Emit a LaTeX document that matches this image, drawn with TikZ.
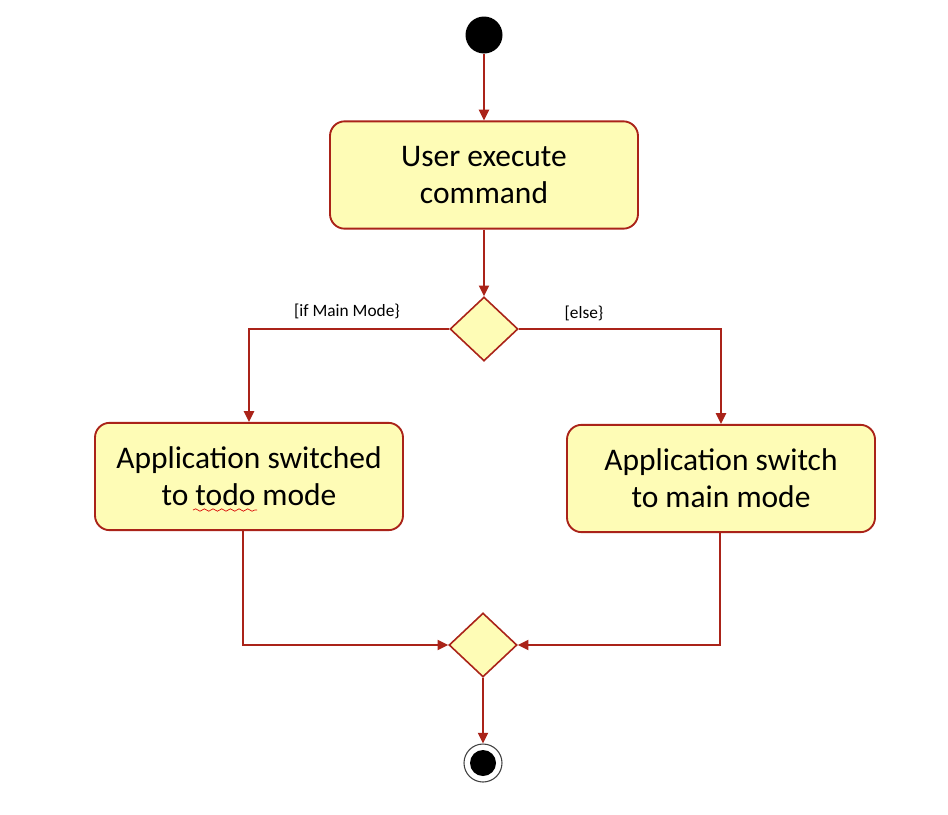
\documentclass[tikz,border=0pt]{standalone}
\usepackage{fontspec}
\setmainfont{Carlito}
\usetikzlibrary{arrows.meta,shapes.geometric,decorations.pathmorphing}
\definecolor{umlred}{RGB}{170,35,25}
\definecolor{umlfill}{RGB}{254,252,182}
\begin{document}
\begin{tikzpicture}[x=0.75pt,y=-0.75pt,
  action/.style={draw=umlred, fill=umlfill, line width=1.4pt, rounded corners=11pt,
    minimum width=231pt, minimum height=80.5pt, align=center, inner sep=0pt,
    font=\fontsize{23.6}{28}\selectfont},
  decision/.style={diamond, draw=umlred, fill=umlfill, line width=1.2pt,
    minimum width=51pt, minimum height=48pt, inner sep=0pt},
  flow/.style={draw=umlred, line width=1.4pt, -{Triangle[length=8pt,width=7.5pt]}},
  guard/.style={font=\fontsize{13}{15}\selectfont, inner sep=0pt}]
\useasboundingbox (0,0) rectangle (948,814);

\node[circle, fill=black, minimum size=27.75pt, inner sep=0pt] (start) at (484,35) {};
\node[action] (box1) at (484,175) {User execute\\command};
\node[decision] (d1) at (484,329) {};
\node[action] (box2) at (249,476.5) {Application switched\\to todo mode};
\node[action] (box3) at (721,478.5) {Application switch\\to main mode};
\node[decision] (d2) at (483,645) {};
\node[circle, draw=black!75, line width=0.8pt, fill=white, minimum size=28.5pt, inner sep=0pt] (end) at (483,763) {};
\node[circle, fill=black, minimum size=19.5pt, inner sep=0pt] (endin) at (end.center) {};

\node[guard] (gmain) at (347,311) {[if Main Mode\}};
\node[guard] (gelse) at (584,313) {[else\}};

\draw[red!85!black, line width=0.5pt, decorate, decoration={snake, amplitude=0.9pt, segment length=6.5pt}] (193,510) -- (257,510);

\draw[flow] (start) -- (box1);
\draw[flow] (box1) -- (d1);
\draw[flow] (d1.west) -| (box2.north);
\draw[flow] (d1.east) -| (box3.north);
\draw[flow] ([xshift=-4.5pt]box2.south) |- (d2.west);
\draw[flow] ([xshift=-0.75pt]box3.south) |- (d2.east);
\draw[flow] (d2) -- (end);
\end{tikzpicture}
\end{document}
